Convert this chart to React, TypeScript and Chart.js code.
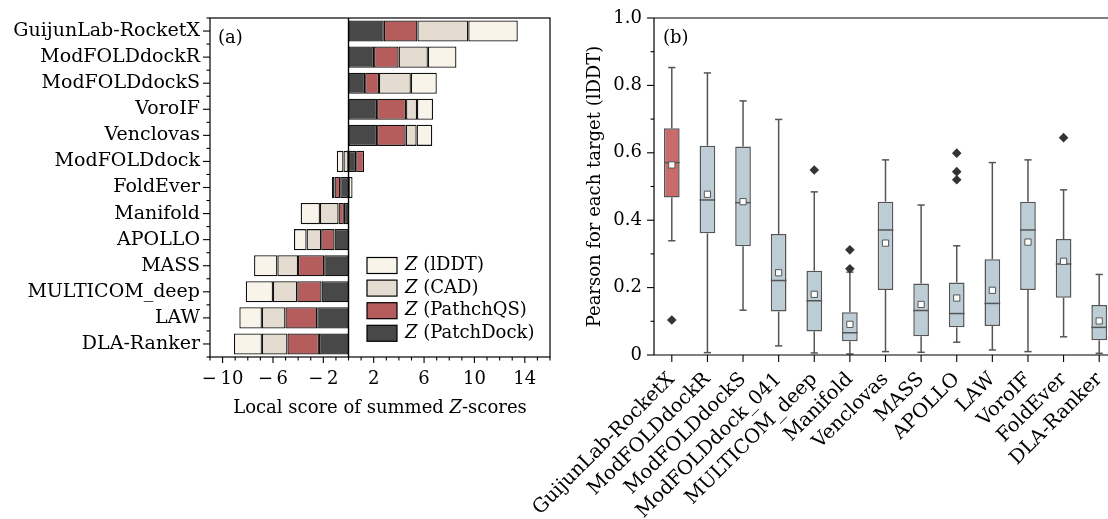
import React, { useEffect, useRef } from "react";
import { Chart, registerables } from "chart.js";
Chart.register(...registerables);

const FONT = "'DejaVu Serif', serif";
const FS = 18;

// ---------- Panel (a): stacked local Z-scores ----------
const teamsA = [
  "GuijunLab-RocketX", "ModFOLDdockR", "ModFOLDdockS", "VoroIF", "Venclovas",
  "ModFOLDdock", "FoldEver", "Manifold", "APOLLO", "MASS", "MULTICOM_deep", "LAW", "DLA-Ranker",
];
const zPatchDock = [2.8, 2.03, 1.32, 2.27, 2.27, 0.61, -0.66, -0.37, -1.11, -1.93, -2.14, -2.48, -2.35];
const zPatchQS = [2.67, 1.95, 1.1, 2.3, 2.27, 0.63, -0.45, -0.42, -1.06, -2.08, -1.93, -2.53, -2.5];
const zCAD = [4.04, 2.32, 2.53, 0.87, 0.87, -0.4, -0.21, -1.48, -1.16, -1.64, -1.93, -1.87, -2.03];
const zLDDT = [3.93, 2.27, 2.06, 1.27, 1.24, -0.53, 0.32, -1.53, -1.0, -1.85, -2.16, -1.79, -2.22];
const xTickLabelsA = [-10, -6, -2, 2, 6, 10, 14];
const seriesNamesA = ["(lDDT)", "(CAD)", "(PathchQS)", "(PatchDock)"];

const COL_PD = "#484848";
const COL_PQS = "#b55c5c";
const COL_CAD = "#e4dcd0";
const COL_LDDT = "#f8f4ea";

// ---------- Panel (b): per-target Pearson box plots ----------
const teamsB = [
  "GuijunLab-RocketX", "ModFOLDdockR", "ModFOLDdockS", "ModFOLDdock_041", "MULTICOM_deep",
  "Manifold", "Venclovas", "MASS", "APOLLO", "LAW", "VoroIF", "FoldEver", "DLA-Ranker",
];
const whiskerHigh = [0.853, 0.837, 0.754, 0.699, 0.484, 0.246, 0.579, 0.445, 0.324, 0.571, 0.579, 0.49, 0.239];
const q3 = [0.673, 0.621, 0.619, 0.359, 0.25, 0.127, 0.455, 0.212, 0.215, 0.284, 0.455, 0.344, 0.148];
const medians = [0.571, 0.46, 0.452, 0.221, 0.161, 0.066, 0.371, 0.132, 0.123, 0.153, 0.371, 0.27, 0.082];
const means = [0.564, 0.477, 0.455, 0.244, 0.18, 0.091, 0.332, 0.15, 0.169, 0.192, 0.335, 0.278, 0.101];
const q1 = [0.467, 0.361, 0.323, 0.129, 0.07, 0.041, 0.193, 0.056, 0.082, 0.086, 0.193, 0.17, 0.044];
const whiskerLow = [0.339, 0.007, 0.133, 0.027, 0.006, 0.003, 0.01, 0.008, 0.038, 0.015, 0.01, 0.054, 0.005];
const outliers = [[0.104], [], [], [], [0.549], [0.312, 0.256], [], [], [0.599, 0.544, 0.52], [], [], [0.645], []];
const yTickLabelsB = [0, 0.2, 0.4, 0.6, 0.8, 1.0];

const BOX_RED = "#c96b6b";
const BOX_BLUE = "#bccdd6";
const BOX_EDGE = "#555555";

type Part = { t: string; it?: boolean };
function drawMixed(ctx: CanvasRenderingContext2D, parts: Part[], x: number, y: number, align: "left" | "center", size: number) {
  ctx.save();
  ctx.textBaseline = "middle";
  ctx.textAlign = "left";
  const fonts = parts.map((p) => `${p.it ? "italic " : ""}${size}px ${FONT}`);
  let total = 0;
  const widths = parts.map((p, i) => {
    ctx.font = fonts[i];
    const w = ctx.measureText(p.t).width;
    total += w;
    return w;
  });
  let cx = align === "center" ? x - total / 2 : x;
  parts.forEach((p, i) => {
    ctx.font = fonts[i];
    ctx.fillText(p.t, cx, y);
    cx += widths[i];
  });
  ctx.restore();
}

function seg(ctx: CanvasRenderingContext2D, x1: number, y1: number, x2: number, y2: number) {
  ctx.beginPath();
  ctx.moveTo(x1, y1);
  ctx.lineTo(x2, y2);
  ctx.stroke();
}

const near = (a: number, list: number[]) => list.some((b) => Math.abs(a - b) < 1e-6);

function PanelA() {
  const ref = useRef<HTMLCanvasElement | null>(null);
  useEffect(() => {
    if (!ref.current) return;
    const decor = {
      id: "decorA",
      afterDatasetsDraw(chart: any) {
        const { ctx, chartArea: a, scales } = chart;
        const x = scales.x;
        const y = scales.y;
        ctx.save();
        ctx.strokeStyle = "#000";
        ctx.lineWidth = 1.2;
        ctx.strokeRect(a.left, a.top, a.right - a.left, a.bottom - a.top);
        const x0 = x.getPixelForValue(0);
        ctx.lineWidth = 1.4;
        seg(ctx, x0, a.top, x0, a.bottom);
        ctx.lineWidth = 1.1;
        for (let v = Math.ceil(x.min); v <= x.max; v++) {
          const px = x.getPixelForValue(v);
          seg(ctx, px, a.bottom, px, a.bottom + (near(v, xTickLabelsA) ? 6 : 3.5));
        }
        teamsA.forEach((_, i) => {
          const py = y.getPixelForValue(i);
          seg(ctx, a.left - 7, py, a.left, py);
        });
        for (let i = 0; i <= teamsA.length; i++) {
          const py = y.getPixelForValue(i - 0.5);
          seg(ctx, a.left - 3.5, py, a.left, py);
        }
        ctx.fillStyle = "#000";
        drawMixed(ctx, [{ t: "(a)" }], a.left + 8, a.top + 20, "left", FS);
        drawMixed(
          ctx,
          [{ t: "Local score of summed " }, { t: "Z", it: true }, { t: "-scores" }],
          (a.left + a.right) / 2,
          a.bottom + 51,
          "center",
          FS
        );
        // legend
        const cols = [COL_LDDT, COL_CAD, COL_PQS, COL_PD];
        const lx = a.left + 157;
        const ly0 = a.top + 247.5;
        seriesNamesA.forEach((nm, i) => {
          const cy = ly0 + i * 22.6;
          ctx.fillStyle = cols[i];
          ctx.fillRect(lx, cy - 8, 30, 16);
          ctx.strokeStyle = "#000";
          ctx.lineWidth = 1.2;
          ctx.strokeRect(lx, cy - 8, 30, 16);
          ctx.fillStyle = "#000";
          drawMixed(ctx, [{ t: "Z", it: true }, { t: " " + nm }], lx + 38, cy, "left", FS);
        });
        ctx.restore();
      },
    };
    const ds = (label: string, data: number[], color: string) => ({
      label,
      data,
      backgroundColor: color,
      borderColor: "#111",
      borderWidth: 1.3,
      borderSkipped: false as const,
      categoryPercentage: 1,
      barPercentage: 0.81,
    });
    const chart = new Chart(ref.current, {
      type: "bar",
      data: {
        labels: teamsA,
        datasets: [
          ds("PatchDock", zPatchDock, COL_PD),
          ds("PatchQS", zPatchQS, COL_PQS),
          ds("CAD", zCAD, COL_CAD),
          ds("lDDT", zLDDT, COL_LDDT),
        ],
      },
      options: {
        indexAxis: "y",
        responsive: false,
        animation: false,
        devicePixelRatio: 1,
        layout: { padding: { top: 18, right: 6, left: 0, bottom: 0 } },
        plugins: { legend: { display: false }, tooltip: { enabled: false } },
        scales: {
          x: {
            type: "linear",
            stacked: true,
            min: -11,
            max: 16,
            grid: { display: false, drawTicks: false },
            border: { display: false },
            ticks: {
              stepSize: 1,
              autoSkip: false,
              maxRotation: 0,
              padding: 12,
              color: "#000",
              font: { family: FONT, size: FS },
              callback: (v: any) => {
                const n = Number(v);
                if (!near(n, xTickLabelsA)) return "";
                return n < 0 ? "\u2212\u2009" + Math.abs(n) : String(n);
              },
            },
            afterFit: (s: any) => {
              s.height = 73;
              s.paddingLeft = 0;
              s.paddingRight = 0;
            },
          },
          y: {
            type: "category",
            stacked: true,
            grid: { display: false, drawTicks: false },
            border: { display: false },
            ticks: { padding: 10, color: "#000", font: { family: FONT, size: 19 }, autoSkip: false },
            afterFit: (s: any) => {
              s.width = 210;
              s.paddingTop = 0;
              s.paddingBottom = 0;
            },
          },
        },
      },
      plugins: [decor],
    });
    return () => chart.destroy();
  }, []);
  return (
    <canvas
      ref={ref}
      width={556}
      height={430}
      style={{ position: "absolute", left: 0, top: 0, width: 556, height: 430 }}
    />
  );
}

function PanelB() {
  const ref = useRef<HTMLCanvasElement | null>(null);
  useEffect(() => {
    if (!ref.current) return;
    const boxIndex = 0;
    const decor = {
      id: "decorB",
      beforeDatasetsDraw(chart: any) {
        const { ctx, scales } = chart;
        const x = scales.x;
        const y = scales.y;
        ctx.save();
        ctx.strokeStyle = BOX_EDGE;
        ctx.lineWidth = 1.5;
        teamsB.forEach((_, i) => {
          const px = x.getPixelForValue(i);
          const yl = y.getPixelForValue(whiskerLow[i]);
          const yh = y.getPixelForValue(whiskerHigh[i]);
          seg(ctx, px, yl, px, y.getPixelForValue(q1[i]));
          seg(ctx, px, y.getPixelForValue(q3[i]), px, yh);
          seg(ctx, px - 3.6, yl, px + 3.6, yl);
          seg(ctx, px - 3.6, yh, px + 3.6, yh);
        });
        ctx.restore();
      },
      afterDatasetDraw(chart: any, args: any) {
        if (args.index !== boxIndex) return;
        const { ctx, scales } = chart;
        const meta = chart.getDatasetMeta(boxIndex);
        ctx.save();
        ctx.strokeStyle = BOX_EDGE;
        ctx.lineWidth = 1.5;
        meta.data.forEach((bar: any, i: number) => {
          const w = bar.width;
          const my = scales.y.getPixelForValue(medians[i]);
          seg(ctx, bar.x - w / 2, my, bar.x + w / 2, my);
        });
        ctx.restore();
      },
      afterDraw(chart: any) {
        const { ctx, chartArea: a, scales } = chart;
        const x = scales.x;
        const y = scales.y;
        ctx.save();
        ctx.strokeStyle = "#000";
        ctx.lineWidth = 1.2;
        seg(ctx, a.left, a.top, a.right + 20, a.top);
        seg(ctx, a.left, a.top, a.left, a.bottom);
        seg(ctx, a.left, a.bottom, a.right + 20, a.bottom);
        ctx.lineWidth = 1.1;
        for (let k = 0; k <= 10; k++) {
          const v = k / 10;
          const py = y.getPixelForValue(v);
          seg(ctx, a.left - (near(v, yTickLabelsB) ? 7 : 3.5), py, a.left, py);
        }
        teamsB.forEach((_, i) => {
          const px = x.getPixelForValue(i);
          seg(ctx, px, a.bottom, px, a.bottom + 7);
        });
        ctx.fillStyle = "#000";
        drawMixed(ctx, [{ t: "(b)" }], a.left + 9, a.top + 20, "left", FS);
        ctx.restore();
      },
    };
    const outlierPts: { x: string; y: number }[] = [];
    outliers.forEach((arr, i) => arr.forEach((v) => outlierPts.push({ x: teamsB[i], y: v })));
    const chart = new Chart(ref.current, {
      type: "bar",
      data: {
        labels: teamsB,
        datasets: [
          {
            type: "bar",
            label: "box",
            data: teamsB.map((_, i) => [q1[i], q3[i]]) as any,
            backgroundColor: teamsB.map((_, i) => (i === 0 ? BOX_RED : BOX_BLUE)),
            borderColor: BOX_EDGE,
            borderWidth: 1.5,
            borderSkipped: false,
            categoryPercentage: 1,
            barPercentage: 0.44,
            order: 3,
          } as any,
          {
            type: "line",
            label: "mean",
            data: teamsB.map((t, i) => ({ x: t, y: means[i] })) as any,
            showLine: false,
            pointStyle: "rect",
            pointRadius: 4.4,
            pointBackgroundColor: "#ffffff",
            pointBorderColor: BOX_EDGE,
            pointBorderWidth: 1,
            order: 1,
          } as any,
          {
            type: "line",
            label: "outliers",
            data: outlierPts as any,
            showLine: false,
            pointStyle: "rectRot",
            pointRadius: 4.8,
            pointBackgroundColor: "#333333",
            pointBorderColor: "#333333",
            pointBorderWidth: 0,
            order: 2,
          } as any,
        ],
      },
      options: {
        responsive: false,
        animation: false,
        devicePixelRatio: 1,
        layout: { padding: { top: 18, right: 13, left: 55, bottom: 0 } },
        plugins: { legend: { display: false }, tooltip: { enabled: false } },
        scales: {
          x: {
            type: "category",
            offset: true,
            grid: { display: false, drawTicks: false },
            border: { display: false },
            ticks: {
              autoSkip: false,
              minRotation: 45,
              maxRotation: 45,
              padding: 13,
              color: "#000",
              font: { family: FONT, size: 19.5 },
            },
            afterFit: (s: any) => {
              s.height = 164;
              s.paddingLeft = 0;
              s.paddingRight = 0;
            },
          },
          y: {
            type: "linear",
            min: 0,
            max: 1,
            grid: { display: false, drawTicks: false },
            border: { display: false },
            title: {
              display: true,
              text: "Pearson for each target (lDDT)",
              color: "#000",
              font: { family: FONT, size: FS },
              padding: { top: 0, bottom: 0 },
            },
            ticks: {
              stepSize: 0.2,
              padding: 12,
              color: "#000",
              font: { family: FONT, size: FS },
              callback: (v: any) => {
                const n = Number(v);
                if (Math.abs(n) < 1e-9) return "0";
                return n.toFixed(1);
              },
            },
            afterFit: (s: any) => {
              s.width = 69;
              s.paddingTop = 0;
              s.paddingBottom = 0;
            },
          },
        },
      },
      plugins: [decor],
    });
    return () => chart.destroy();
  }, []);
  return (
    <canvas
      ref={ref}
      width={600}
      height={519}
      style={{ position: "absolute", left: 530, top: 0, width: 600, height: 519 }}
    />
  );
}

export default function App() {
  return (
    <div
      style={{
        position: "fixed",
        left: 0,
        top: 0,
        width: 1108,
        height: 519,
        overflow: "hidden",
        background: "#ffffff",
      }}
    >
      <PanelA />
      <PanelB />
    </div>
  );
}
